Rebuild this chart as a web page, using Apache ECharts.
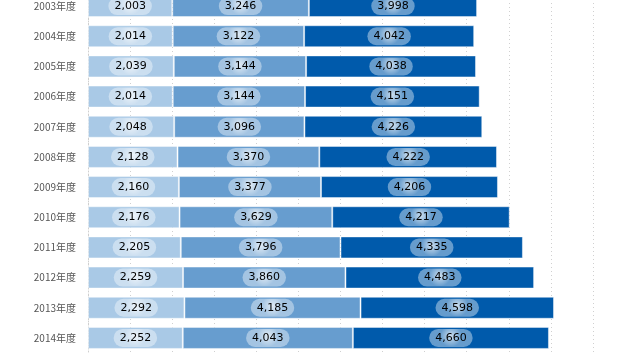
<!DOCTYPE html>
<html>
<head>
<meta charset="utf-8">
<script src="https://cdn.jsdelivr.net/npm/echarts@6/dist/echarts.min.js"></script>
<style>
  html, body { margin: 0; padding: 0; background: #fff; overflow: hidden; }
  #chart-container { width: 635px; height: 362px; margin-top: -9px; }
</style>
</head>
<body>
<div id="chart-container"></div>
<script>
var years = ["2003年度", "2004年度", "2005年度", "2006年度", "2007年度", "2008年度",
  "2009年度", "2010年度", "2011年度", "2012年度", "2013年度", "2014年度"];
var part1 = [2003, 2014, 2039, 2014, 2048, 2128, 2160, 2176, 2205, 2259, 2292, 2252];
var part2 = [3246, 3122, 3144, 3144, 3096, 3370, 3377, 3629, 3796, 3860, 4185, 4043];
var part3 = [3998, 4042, 4038, 4151, 4226, 4222, 4206, 4217, 4335, 4483, 4598, 4660];
var colors = ["#a9c9e6", "#679dcf", "#005aab"];

var dom = document.getElementById("chart-container");
var myChart = echarts.init(dom, null, { renderer: "canvas" });

function fmt(v) {
  return String(v).replace(/\B(?=(\d{3})+(?!\d))/g, ",");
}

var bubble = {
  show: true,
  position: "inside",
  formatter: function (p) { return fmt(p.value); },
  color: "#000",
  fontFamily: "DejaVu Sans",
  fontSize: 11,
  padding: [4, 6, 3, 6],
  borderRadius: 10,
  backgroundColor: {
    type: "radial", x: 0.5, y: 0.4, r: 0.6,
    colorStops: [
      { offset: 0, color: "rgba(255,255,255,0.8)" },
      { offset: 1, color: "rgba(255,255,255,0.4)" }
    ]
  }
};

function makeSeries(name, data, color) {
  return {
    name: name,
    type: "bar",
    stack: "total",
    barWidth: 22,
    data: data,
    itemStyle: { color: color, borderColor: "rgba(255,255,255,0.45)", borderWidth: 1 },
    label: bubble
  };
}

var option = {
  animation: false,
  grid: { left: 88, right: 0, top: 0, bottom: 0, containLabel: false },
  xAxis: {
    type: "value",
    min: 0,
    max: 13000,
    interval: 1000,
    axisLabel: { show: false },
    axisLine: { show: false },
    axisTick: { show: false },
    splitLine: { lineStyle: { color: "#d0d0d0", type: [1, 3] } }
  },
  yAxis: {
    type: "category",
    inverse: true,
    data: years,
    axisTick: { show: false },
    axisLine: { lineStyle: { color: "#cfcfcf", type: [1, 2] } },
    axisLabel: {
      color: "#555",
      fontSize: 10,
      margin: 12,
      fontFamily: "Noto Sans CJK JP"
    }
  },
  series: [
    makeSeries("a", part1, colors[0]),
    makeSeries("b", part2, colors[1]),
    makeSeries("c", part3, colors[2])
  ]
};

myChart.setOption(option);
</script>
</body>
</html>
